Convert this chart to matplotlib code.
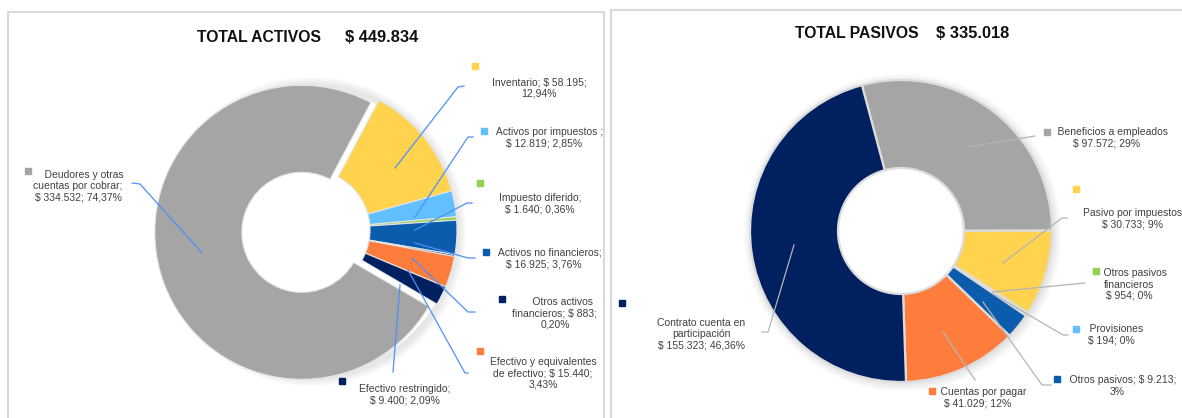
import numpy as np
import matplotlib.pyplot as plt
from matplotlib.patches import Rectangle, Wedge

plt.rcParams['font.family'] = ['Liberation Sans', 'DejaVu Sans']

H = 418  # figure height in px, positions below are read top-down

# ---- TOTAL ACTIVOS (clockwise from Inventario) ----
act_names = ['Inventario', 'Activos por impuestos', 'Impuesto diferido',
             'Activos no financieros', 'Otros activos financieros',
             'Efectivo y equivalentes de efectivo', 'Efectivo restringido',
             'Deudores y otras cuentas por cobrar']
act_values = [58195, 12819, 1640, 16925, 883, 15440, 9400, 334532]
act_text = ['Inventario; $ 58.195;\n12,94%',
            '    Activos por impuestos ;\n$ 12.819; 2,85%',
            'Impuesto diferido;\n$ 1.640; 0,36%',
            '    Activos no financieros;\n$ 16.925; 3,76%',
            '     Otros activos\nfinancieros; $ 883;\n0,20%',
            'Efectivo y equivalentes\nde efectivo; $ 15.440;\n3,43%',
            'Efectivo restringido;\n$ 9.400; 2,09%',
            '    Deudores y otras\ncuentas por cobrar;\n$ 334.532; 74,37%']
act_total = '$ 449.834'

# ---- TOTAL PASIVOS (clockwise from Beneficios) ----
pas_names = ['Beneficios a empleados', 'Pasivo por impuestos',
             'Otros pasivos financieros', 'Provisiones', 'Otros pasivos',
             'Cuentas por pagar', 'Contrato cuenta en participación']
pas_values = [97572, 30733, 954, 194, 9213, 41029, 155323]
pas_text = ['    Beneficios a empleados\n$ 97.572; 29%',
            'Pasivo por impuestos\n$ 30.733; 9%',
            '    Otros pasivos\nfinancieros\n$ 954; 0%',
            '    Provisiones\n$ 194; 0%',
            '    Otros pasivos; $ 9.213;\n3%',
            '    Cuentas por pagar\n$ 41.029; 12%',
            'Contrato cuenta en\nparticipación\n$ 155.323; 46,36%']
pas_total = '$ 335.018'

GRAY, YEL, LBLUE, GREEN = '#a5a5a5', '#ffd34d', '#63c0ff', '#92d050'
BLUE, NAVY, ORANGE = '#0b5cad', '#002060', '#ff7d3c'
act_colors = [YEL, LBLUE, GREEN, BLUE, NAVY, ORANGE, NAVY, GRAY]
pas_colors = [GRAY, YEL, GREEN, LBLUE, BLUE, ORANGE, NAVY]

# label layout: text centre, legend key, leader polyline (px, y down)
act_lbl_xy = [(539, 88), (544, 137.5), (540, 203.5), (544, 258.5),
              (555, 313.5), (543, 373.5), (405, 394.5), (78, 186)]
act_key_xy = [(475, 66), (484, 131), (480, 183), (486, 252),
              (502, 299), (480, 351), (342, 381), (28, 171)]
act_lead = [[(395, 168), (458, 87), (464, 86)],
            [(415, 217), (468, 137), (473, 137)],
            [(415, 230), (467, 203), (472, 203)],
            [(415, 243), (468, 258), (475, 258)],
            [(412, 258), (468, 312), (475, 312)],
            [(408, 270), (465, 373), (468, 373)],
            [(400, 285), (393, 372)],
            [(202, 253), (140, 184), (132, 183)]]

pas_lbl_xy = [(1107, 137.5), (1133, 219), (1129, 284.5), (1111, 335),
              (1117, 386), (978, 398), (701, 334)]
pas_key_xy = [(1047, 132), (1076, 189), (1096, 271), (1076, 329),
              (1057, 379), (932, 391), (622, 303)]
pas_lead = [[(968, 147), (1035, 136)],
            [(1003, 263), (1062, 218), (1067, 218)],
            [(992, 292), (1085, 283)],
            [(993, 294), (1063, 335), (1068, 335)],
            [(983, 302), (1042, 385), (1051, 385)],
            [(943, 332), (975, 380)],
            [(794, 245), (768, 332), (762, 332)]]

fig = plt.figure(figsize=(11.82, 4.18), dpi=100)
ax = fig.add_axes([0, 0, 1, 1])


def shadow(cx, cy, r_out):
    # soft glow just outside the ring
    for k in range(8):
        ax.add_patch(Wedge((cx + 1.5, H - cy - 1.5), r_out + 8 - k, 0, 360,
                           width=12 - k, color='k', alpha=0.013, lw=0,
                           zorder=0))


def donut(values, colors, cx, cy, r_out, r_in, start, edge, lw):
    shadow(cx, cy, r_out)
    wedges, _ = ax.pie(values, colors=colors, startangle=start,
                       counterclock=False, center=(cx, H - cy), radius=r_out,
                       wedgeprops=dict(width=r_out - r_in, edgecolor=edge,
                                       linewidth=lw, zorder=2))
    return wedges


w_act = donut(act_values, act_colors, 310, 230, 147, 60, 62, '#e4e4e4', 0.8)
# the big grey slice is pulled out a little, as in the original
g = w_act[-1]
tm = np.deg2rad((g.theta1 + g.theta2) / 2)
g.set_center((310 + 8.5 * np.cos(tm), H - 230 + 8.5 * np.sin(tm)))

donut(pas_values, pas_colors, 901, 231, 151, 63, 105, '#dcdcdc', 1.6)


def labels(texts, colors, lbl_xy, key_xy, leads, lead_color):
    for t, c, (lx, ly), (kx, ky), pts in zip(texts, colors, lbl_xy, key_xy, leads):
        xs = [p[0] for p in pts]
        ys = [H - p[1] for p in pts]
        ax.plot(xs, ys, color=lead_color, lw=0.9, zorder=3)
        ax.plot(kx, H - ky, marker='s', ms=4.2, color=c, mec=c, zorder=4)
        ax.text(lx, H - ly, t, ha='center', va='center', ma='center',
                fontsize=7.5, color='#404040', linespacing=1.15, zorder=4)


labels(act_text, act_colors, act_lbl_xy, act_key_xy, act_lead, '#4f8ff7')
labels(pas_text, pas_colors, pas_lbl_xy, pas_key_xy, pas_lead, '#b4b4b4')

# titles
ax.text(197, H - 37, 'TOTAL ACTIVOS', fontsize=11.3, fontweight='bold',
        va='center', ha='left', color='#111111')
ax.text(345, H - 37, act_total, fontsize=11.8, fontweight='bold',
        va='center', ha='left', color='#111111')
ax.text(795, H - 34, 'TOTAL PASIVOS', fontsize=11.3, fontweight='bold',
        va='center', ha='left', color='#111111')
ax.text(936, H - 34, pas_total, fontsize=11.8, fontweight='bold',
        va='center', ha='left', color='#111111')

# panel borders
ax.add_patch(Rectangle((8, -5), 596, H - 12 + 5, fill=False,
                       ec='#d9d9d9', lw=1.5, zorder=5))
ax.add_patch(Rectangle((611, -5), 600, H - 10 + 5, fill=False,
                       ec='#d9d9d9', lw=1.5, zorder=5))

ax.set_xlim(0, 1182)
ax.set_ylim(0, H)
ax.set_aspect('equal')
ax.set_axis_off()

fig.savefig('out.png', dpi=100)
